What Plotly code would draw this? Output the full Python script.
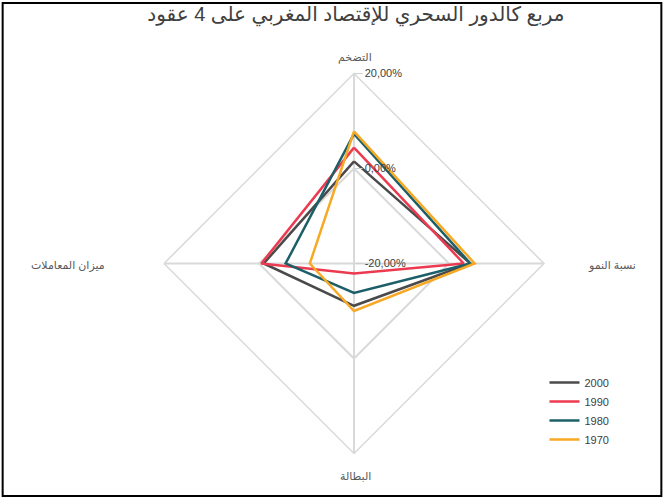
import plotly.graph_objects as go

categories = ["التضخم", "نسبة النمو", "البطالة", "ميزان المعاملات"]
years = ["2000", "1990", "1980", "1970"]
v2000 = [1.5, 4.5, -11.1, -1.0]
v1990 = [4.4, 3.1, -17.9, -0.5]
v1980 = [7.3, 4.5, -13.8, -5.6]
v1970 = [7.8, 5.4, -10.0, -10.7]
series = [v2000, v1990, v1980, v1970]
colors = ["#4a4a4a", "#ec3a50", "#1d5f68", "#f7a824"]
radial_ticks = [-20, 0, 20]
radial_ticktext = ["-20,00%", "0,00%", "20,00%"]

FONT = "Liberation Sans, Arial, DejaVu Sans, sans-serif"
fig = go.Figure()
for name, vals, col in zip(years, series, colors):
    fig.add_trace(go.Scatterpolar(
        r=vals + vals[:1], theta=categories + categories[:1],
        mode="lines", name=name,
        line=dict(color=col, width=2.5),
    ))

W, H = 664, 499
cx, cy, R = 354, 263.5, 190
label_pos = [(355, 57, "center"), (612, 265, "center"), (355, 476, "center"), (68, 265, "center")]
annotations = [
    dict(text=c, x=px / W, y=1 - py / H, xref="paper", yref="paper",
         xanchor=anc, yanchor="middle", showarrow=False,
         font=dict(family=FONT, size=11, color="#595959"))
    for c, (px, py, anc) in zip(categories, label_pos)
]
fig.update_layout(
    width=W, height=H,
    margin=dict(l=0, r=0, t=0, b=0),
    paper_bgcolor="white",
    font=dict(family=FONT, size=11, color="#595959"),
    title=dict(text="مربع كالدور السحري للإقتصاد المغربي على 4 عقود",
               x=0.536, xanchor="center", y=0.972, yanchor="middle",
               font=dict(family=FONT, size=20, color="#404040")),
    polar=dict(
        domain=dict(x=[(cx - R) / W, (cx + R) / W],
                    y=[(H - cy - R) / H, (H - cy + R) / H]),
        gridshape="linear",
        bgcolor="white",
        radialaxis=dict(range=[-20, 20], tickvals=radial_ticks, ticktext=radial_ticktext,
                        angle=90, tickangle=90, side="clockwise",
                        showline=False, gridcolor="#d9d9d9", gridwidth=1.5,
                        ticks="outside", ticklen=8, tickcolor="#d0d0d0", tickwidth=1,
                        tickfont=dict(size=11, color="#404040")),
        angularaxis=dict(rotation=90, direction="clockwise",
                         showline=True, linecolor="#d9d9d9", linewidth=1.5,
                         gridcolor="#d9d9d9", gridwidth=1.5,
                         showticklabels=False, ticks=""),
    ),
    annotations=annotations,
    showlegend=True,
    legend=dict(x=0.82, y=0.2625, xanchor="left", yanchor="top",
                bgcolor="rgba(0,0,0,0)", font=dict(size=11, color="#404040"),
                tracegroupgap=0, itemwidth=30),
    shapes=[dict(type="rect", xref="paper", yref="paper", x0=0.004, x1=0.996, y0=0.006, y1=0.994,
                 line=dict(color="black", width=2))],
)
fig.write_html("out.html")
